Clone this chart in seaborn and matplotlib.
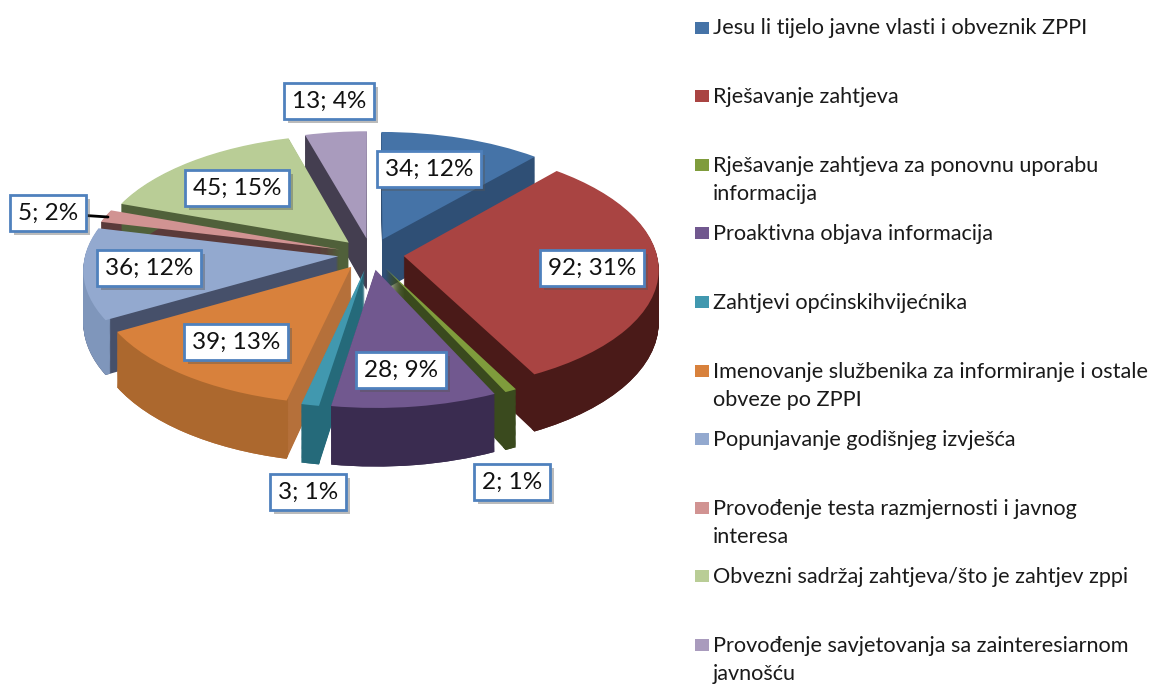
import numpy as np
import matplotlib
matplotlib.use("Agg")
import matplotlib.pyplot as plt
import matplotlib.patheffects as pe
from matplotlib.patches import Rectangle
from matplotlib.transforms import Transform
import seaborn as sns

categories = [
    "Jesu li tijelo javne vlasti i obveznik ZPPI",
    "Rješavanje zahtjeva",
    "Rješavanje zahtjeva za ponovnu uporabu\ninformacija",
    "Proaktivna objava informacija",
    "Zahtjevi općinskihvijećnika",
    "Imenovanje službenika za informiranje i ostale\nobveze po ZPPI",
    "Popunjavanje godišnjeg izvješća",
    "Provođenje testa razmjernosti i javnog\ninteresa",
    "Obvezni sadržaj zahtjeva/što je zahtjev zppi",
    "Provođenje savjetovanja sa zainteresiarnom\njavnošću",
]
values = [34, 92, 2, 28, 3, 39, 36, 5, 45, 13]
percents = [12, 31, 1, 9, 1, 13, 12, 2, 15, 4]

top_colors = ["#4573A7", "#A94442", "#7F9C3C", "#71588F", "#4198AF",
              "#D8813C", "#93A9CF", "#D19392", "#B9CD96", "#A99BBD"]
cut_colors = ["#2F4F75", "#4A1A18", "#3A4A1E", "#3A2C50", "#256A7A",
              "#B5703A", "#46506A", "#5A3A3A", "#50603A", "#443E50"]
rim_colors = ["#2F4F75", "#4A1A18", "#3A4A1E", "#3A2C50", "#256A7A",
              "#AC682E", "#7F96BB", "#5A3A3A", "#50603A", "#443E50"]

# label box centres in pixels, one per category
label_pos = [(429, 169), (592, 268), (512, 482), (401, 370), (308, 492),
             (236, 342), (149, 268), (48, 213), (237, 188), (329, 101)]

CX, CY, RX, RY, PERSP, DEPTH, EXPLODE = 371, 254, 253, 121, 0.10, 52, 0.13


class Perspective(Transform):
    input_dims = output_dims = 2
    is_separable = False
    has_inverse = False

    def __init__(self, drop=0.0):
        super().__init__()
        self.drop = drop

    def transform_non_affine(self, values_xy):
        xy = np.asarray(values_xy, dtype=float)
        u, v = xy[:, 0], xy[:, 1]
        w = 1 + PERSP * v
        return np.column_stack([CX + RX * u / w, CY - RY * v / w + self.drop / w])


sns.set_theme(style="white")
plt.rcParams["font.family"] = ["Lato", "DejaVu Sans"]

fig = plt.figure(figsize=(11.6, 6.84), dpi=100, facecolor="white")
ax = fig.add_axes([0, 0, 1, 1])


def layer(colors, drop, width=None):
    props = {"linewidth": 0}
    if width is not None:
        props["width"] = width
    wedges, _ = ax.pie(values, colors=sns.color_palette(colors), startangle=90,
                       counterclock=False, explode=[EXPLODE] * len(values),
                       wedgeprops=props, normalize=True)
    tr = Perspective(drop) + ax.transData
    for w in wedges:
        w.set_transform(tr)


for d in np.arange(DEPTH, 0, -1.0):
    layer(cut_colors, d)
for d in np.arange(DEPTH, 0, -1.0):
    layer(rim_colors, d, width=0.02)
layer(top_colors, 0)

ax.set_aspect("auto")
ax.set_xlim(0, 1160)
ax.set_ylim(684, 0)
ax.axis("off")

shadow = [pe.withSimplePatchShadow(offset=(3, -3), shadow_rgbFace="#555555", alpha=0.4)]
box = dict(boxstyle="square,pad=0.32", facecolor="white", edgecolor="#4F81BD", linewidth=2)
for i, (x, y) in enumerate(label_pos):
    txt = f"{values[i]}; {percents[i]}%"
    if i == 7:
        t = ax.annotate(txt, xy=(108, 217), xytext=(x, y), ha="center", va="center",
                        fontsize=17.5, color="#111111", bbox=box,
                        arrowprops=dict(arrowstyle="-", color="black", lw=2, shrinkA=0, shrinkB=0))
    else:
        t = ax.text(x, y, txt, ha="center", va="center", fontsize=17.5, color="#111111", bbox=box)
    t.get_bbox_patch().set_path_effects(shadow)

for i, (name, col) in enumerate(zip(categories, top_colors)):
    y = 27.5 + 68.6 * i
    ax.add_patch(Rectangle((695, y - 6), 14, 12, facecolor=col, edgecolor="none"))
    for j, line in enumerate(name.split("\n")):
        ax.text(713, y + 7 + 28 * j, line, ha="left", va="baseline", fontsize=15.6, color="#1A1A1A")

fig.savefig("out.png", dpi=100)
